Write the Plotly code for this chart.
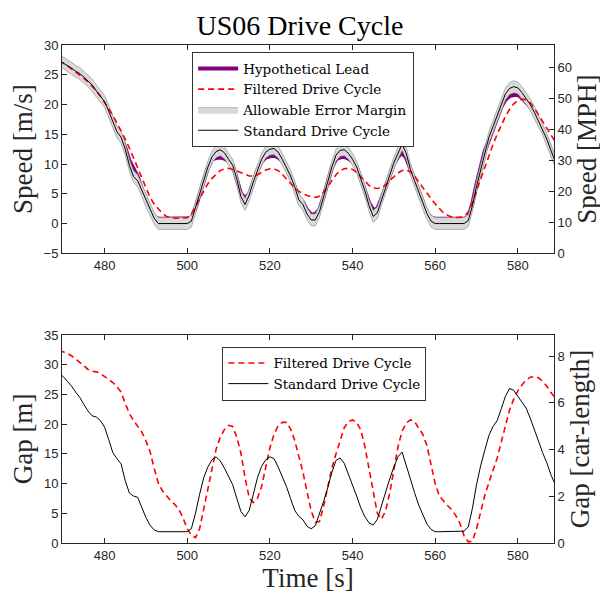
import plotly.graph_objects as go

# ---------------- data ----------------
TIME = list(range(469, 590))

STANDARD_SPEED = [
    27.4, 27.0, 26.5, 26.1, 25.6, 25.2, 24.6, 24.0, 23.3, 22.3,   # 469-478
    21.4, 20.5, 18.9, 17.1, 15.4, 14.5, 12.5, 9.8, 7.9, 7.2,      # 479-488
    5.6, 3.8, 2.3, 0.9, 0.0, 0.0, 0.0, 0.0, 0.0, 0.0,             # 489-498
    0.0, 0.0, 0.4, 2.6, 5.2, 7.2, 9.5, 11.2, 12.1, 12.4,          # 499-508
    11.9, 10.8, 9.8, 7.5, 4.5, 3.2, 4.8, 7.0, 9.0, 10.8,          # 509-518
    12.0, 12.5, 12.6, 12.0, 10.8, 9.5, 8.0, 6.2, 4.0, 3.2,        # 519-528
    1.6, 0.6, 0.6, 2.0, 4.5, 7.0, 9.5, 11.5, 12.3, 12.4,          # 529-538
    11.8, 10.8, 9.5, 7.5, 5.5, 3.0, 1.2, 1.8, 4.0, 6.2,           # 539-548
    8.3, 10.2, 11.8, 13.3, 11.8, 9.1, 7.2, 5.3, 3.4, 1.7,         # 549-558
    0.4, 0.0, 0.0, 0.0, 0.0, 0.0, 0.0, 0.0, 0.0, 0.5,             # 559-568
    3.0, 6.2, 9.0, 11.5, 14.5, 16.3, 18.2, 20.0, 21.8, 22.7,      # 569-578
    23.0, 22.8, 22.0, 21.0, 20.0, 18.7, 17.2, 15.9, 14.2, 12.3,   # 579-588
    10.5,                                                          # 589
]

HYPOTHETICAL_LEAD = [
    27.4, 27.0, 26.5, 26.1, 25.6, 25.2, 24.6, 24.0, 23.3, 22.3,
    21.4, 20.5, 18.9, 17.1, 15.4, 14.5, 12.8, 10.6, 9.2, 7.9,
    5.8, 3.9, 2.4, 1.2, 0.8, 0.8, 0.8, 0.8, 0.8, 0.8,
    0.8, 0.8, 0.9, 2.6, 5.2, 7.2, 9.4, 10.8, 11.0, 11.1,
    10.9, 10.5, 9.8, 7.6, 5.1, 4.3, 5.0, 7.0, 9.0, 10.4,
    11.1, 11.3, 11.4, 11.1, 10.5, 9.5, 8.0, 6.2, 4.3, 3.6,
    2.3, 1.5, 1.6, 2.4, 4.5, 7.0, 9.4, 10.8, 11.1, 11.2,
    10.9, 10.4, 9.5, 7.5, 5.6, 3.5, 2.3, 2.5, 4.2, 6.2,
    8.3, 10.0, 11.2, 11.9, 11.0, 9.1, 7.2, 5.3, 3.4, 1.8,
    1.0, 0.8, 0.8, 0.8, 0.8, 0.8, 0.8, 0.8, 0.8, 1.0,
    3.4, 6.6, 9.5, 12.2, 14.0, 15.8, 17.8, 19.6, 20.8, 21.4,
    21.6, 21.6, 21.1, 20.4, 19.6, 18.5, 17.2, 15.9, 14.2, 12.3,
    10.5,
]

FILTERED_SPEED = [
    27.4, 27.0, 26.5, 26.0, 25.5, 25.0, 24.4, 23.8, 23.1, 22.3,
    21.4, 20.4, 19.4, 18.2, 16.9, 15.6, 14.2, 12.7, 11.0, 9.3,
    7.5, 5.8, 4.4, 3.3, 2.4, 1.7, 1.2, 1.0, 0.9, 0.9,
    0.9, 1.0, 1.6, 2.9, 4.3, 5.6, 6.7, 7.6, 8.3, 8.9,
    9.2, 9.3, 9.1, 8.8, 8.5, 8.2, 8.0, 8.0, 8.2, 8.6,
    9.0, 9.2, 9.2, 8.9, 8.3, 7.5, 6.7, 6.0, 5.4, 5.0,
    4.7, 4.5, 4.4, 4.6, 5.3, 6.2, 7.3, 8.2, 8.9, 9.2,
    9.3, 9.1, 8.6, 7.9, 7.1, 6.4, 6.0, 5.9, 6.0, 6.5,
    7.2, 7.9, 8.5, 8.9, 9.0, 8.7, 8.0, 7.0, 6.0, 5.1,
    4.2, 3.3, 2.5, 1.8, 1.4, 1.1, 1.0, 1.0, 1.1, 2.0,
    3.5, 5.5, 7.5, 9.3, 11.3, 13.3, 15.0, 16.6, 18.0, 19.2,
    20.1, 20.7, 20.9, 20.8, 20.3, 19.4, 18.3, 17.2, 16.0, 14.8,
    13.8,
]

STANDARD_GAP = [
    28.5, 28.0, 27.2, 26.4, 25.4, 24.5, 23.3, 22.2, 21.4, 21.2,
    20.6, 19.5, 17.4, 15.2, 14.2, 13.3, 10.5, 8.4, 7.9, 7.7,
    6.0, 4.3, 3.0, 2.2, 1.9, 1.9, 1.9, 1.9, 1.9, 1.9,
    1.9, 1.9, 2.4, 5.0, 8.2, 11.0, 12.8, 14.0, 14.5, 13.8,
    12.6, 11.2, 9.8, 7.5, 5.3, 4.4, 5.5, 8.2, 11.0, 12.9,
    14.0, 14.5, 14.2, 12.8, 11.3, 9.5, 7.5, 5.5, 4.5, 3.9,
    2.8, 2.4, 2.9, 4.8, 7.0, 9.3, 11.9, 13.9, 14.3, 13.4,
    11.6, 9.9, 7.9, 5.9, 4.4, 3.4, 3.0, 4.0, 6.4, 8.6,
    10.8, 12.8, 14.5, 15.3, 12.9, 10.6, 8.5, 6.4, 4.7, 3.2,
    2.3, 1.9, 1.9, 1.9, 1.9, 1.9, 1.9, 1.9, 2.0, 2.7,
    5.8, 9.8, 13.0, 15.6, 18.1, 19.6, 20.6, 22.6, 24.7, 26.0,
    25.7, 24.7, 23.6, 22.7, 21.0, 19.0, 17.0, 15.2, 13.5, 11.5,
    9.9,
]

FILTERED_GAP = [
    32.4, 32.2, 31.9, 31.5, 31.0, 30.4, 29.8, 29.2, 28.9, 28.8,
    28.5, 28.0, 27.6, 27.0, 26.3, 25.4, 23.5, 21.8, 20.6, 19.6,
    18.7, 17.2, 15.4, 12.6, 10.1, 8.8, 7.9, 7.1, 6.5, 5.6,
    4.2, 2.4, 1.3, 0.9, 2.4, 5.8, 9.4, 12.8, 15.8, 17.8,
    19.1, 19.8, 19.6, 17.8, 15.1, 11.0, 7.6, 6.8, 7.5, 9.5,
    12.8, 16.0, 18.3, 19.7, 20.3, 20.3, 19.2, 17.3, 14.6, 11.9,
    8.6, 5.4, 3.5, 3.6, 6.2, 9.4, 12.6, 15.0, 17.3, 19.4,
    20.4, 20.7, 20.3, 19.0, 16.2, 12.6, 8.7, 5.0, 4.0, 5.4,
    8.4, 12.4, 16.2, 18.8, 20.2, 20.7, 20.5, 19.3, 18.3, 16.4,
    13.2, 10.0, 7.9, 7.0, 6.3, 5.6, 4.6, 3.3, 1.2, 0.2,
    0.3, 2.4, 5.2, 8.0, 10.2, 12.3, 14.3, 17.0, 19.8, 22.4,
    24.2, 25.6, 26.6, 27.4, 27.9, 28.0, 27.8, 27.2, 26.4, 25.3,
    24.5,
]

ERROR_MARGIN = 1.0  # m/s, allowable error around the standard cycle

X_TICKS = [480, 500, 520, 540, 560, 580]
SPEED_TICKS = [-5, 0, 5, 10, 15, 20, 25, 30]
MPH_TICKS = [0, 10, 20, 30, 40, 50, 60]
GAP_TICKS = [0, 5, 10, 15, 20, 25, 30, 35]
CARLEN_TICKS = [0, 2, 4, 6, 8]

# ---------------- styling ----------------
SERIF = "Liberation Serif"
LEGSERIF = "DejaVu Serif"
SANS = "Liberation Sans"
AXC = "#262626"
PURPLE = "#800080"
RED = "#FF0000"
BAND_FILL = "#d9d9d9"
BAND_EDGE = "#8c8c8c"

upper = [v + ERROR_MARGIN for v in STANDARD_SPEED]
lower = [v - ERROR_MARGIN for v in STANDARD_SPEED]

fig = go.Figure()

# top subplot
fig.add_trace(go.Scatter(x=TIME, y=HYPOTHETICAL_LEAD, mode="lines", name="Hypothetical Lead",
                         line=dict(color=PURPLE, width=4), legendrank=1,
                         xaxis="x", yaxis="y", legend="legend"))
fig.add_trace(go.Scatter(x=TIME + TIME[::-1], y=upper + lower[::-1], mode="lines",
                         fill="toself", fillcolor=BAND_FILL, name="Allowable Error Margin",
                         line=dict(color=BAND_EDGE, width=0.6), legendrank=3,
                         xaxis="x", yaxis="y", legend="legend"))
fig.add_trace(go.Scatter(x=TIME, y=FILTERED_SPEED, mode="lines", name="Filtered Drive Cycle",
                         line=dict(color=RED, width=1.6, dash="6px,4px"), legendrank=2,
                         xaxis="x", yaxis="y", legend="legend"))
fig.add_trace(go.Scatter(x=TIME, y=STANDARD_SPEED, mode="lines", name="Standard Drive Cycle",
                         line=dict(color="black", width=1), legendrank=4,
                         xaxis="x", yaxis="y", legend="legend"))
# empty traces so the right-hand axes are drawn
fig.add_trace(go.Scatter(x=[None], y=[None], mode="lines", showlegend=False,
                         hoverinfo="skip", xaxis="x", yaxis="y2"))

# bottom subplot
fig.add_trace(go.Scatter(x=TIME, y=FILTERED_GAP, mode="lines", name="Filtered Drive Cycle",
                         line=dict(color=RED, width=1.6, dash="6px,4px"),
                         xaxis="x2", yaxis="y3", legend="legend2"))
fig.add_trace(go.Scatter(x=TIME, y=STANDARD_GAP, mode="lines", name="Standard Drive Cycle",
                         line=dict(color="black", width=1),
                         xaxis="x2", yaxis="y3", legend="legend2"))
fig.add_trace(go.Scatter(x=[None], y=[None], mode="lines", showlegend=False,
                         hoverinfo="skip", xaxis="x2", yaxis="y4"))

tickfont = dict(family=SANS, size=13, color=AXC)
labfont = dict(family=SERIF, size=27, color=AXC)
XR = [469.7, 588.75]


def xax(anchor, title=None):
    d = dict(range=XR, tickvals=X_TICKS, ticks="inside", ticklen=5, tickcolor=AXC,
             showline=True, linecolor=AXC, linewidth=1, mirror="ticks",
             showgrid=False, zeroline=False, tickfont=tickfont, anchor=anchor,
             domain=[0, 1])
    if title:
        d["title"] = dict(text=title, font=labfont, standoff=2)
    return d


def yax(rng, ticks, title, side="left", overlaying=None, domain=None, anchor=None, standoff=5):
    d = dict(range=rng, tickvals=ticks, ticks="inside", ticklen=5, tickcolor=AXC,
             showline=True, linecolor=AXC, linewidth=1, showgrid=False, zeroline=False,
             tickfont=tickfont, side=side, anchor=anchor,
             title=dict(text=title, font=labfont, standoff=standoff))
    if overlaying:
        d["overlaying"] = overlaying
    else:
        d["domain"] = domain
    return d


TOP = [0.5817, 1.0]
BOT = [0.0, 0.4177]

legfont = dict(family=LEGSERIF, size=13.5, color="black")

fig.update_layout(
    width=600, height=587,
    margin=dict(l=51, r=51, t=37, b=52),
    paper_bgcolor="white", plot_bgcolor="white",
    showlegend=True,
    title=dict(text="US06 Drive Cycle", font=dict(family=SERIF, size=28, color="black"),
               x=292 / 600, xref="container", y=1 - 7 / 587, yref="container",
               xanchor="center", yanchor="top", pad=dict(t=0, b=0)),
    xaxis=xax("y"),
    xaxis2=xax("y3", "Time [s]"),
    yaxis=yax([-5, 30], SPEED_TICKS, "Speed [m/s]", domain=TOP, anchor="x"),
    yaxis2=yax([0, 67.2], MPH_TICKS, "Speed [MPH]", side="right", overlaying="y", anchor="x"),
    yaxis3=yax([0, 35], GAP_TICKS, "Gap [m]", domain=BOT, anchor="x2"),
    yaxis4=yax([0, 8.9], CARLEN_TICKS, "Gap [car-length]", side="right", overlaying="y3", anchor="x2"),
    legend=dict(x=0.2645, y=0.9853, xanchor="left", yanchor="top",
                bgcolor="white", bordercolor="#333333", borderwidth=1,
                font=legfont, tracegroupgap=0, itemwidth=40, traceorder="normal"),
    legend2=dict(x=0.326, y=0.394, xanchor="left", yanchor="top",
                 bgcolor="white", bordercolor="#333333", borderwidth=1,
                 font=legfont, tracegroupgap=0, itemwidth=40, traceorder="normal"),
)

fig.write_html("out.html")
